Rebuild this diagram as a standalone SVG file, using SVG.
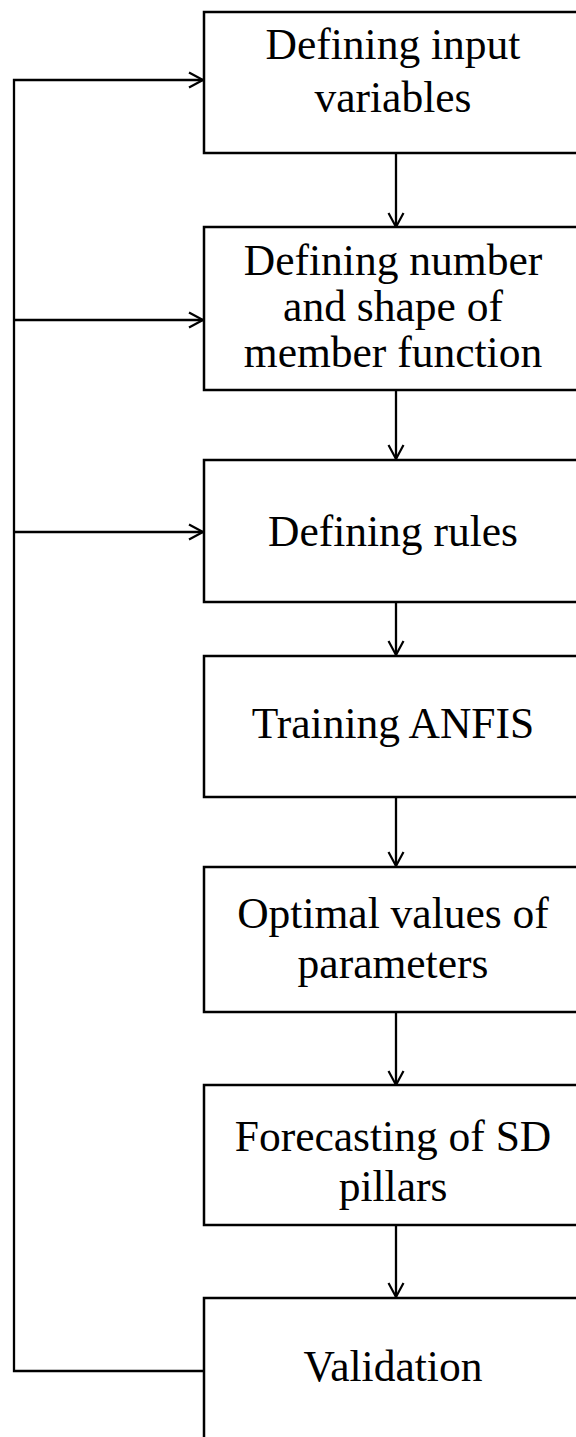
<svg xmlns="http://www.w3.org/2000/svg" width="576" height="1437" viewBox="0 0 576 1437">
<style>
.box{fill:#fff;stroke:#000;stroke-width:2.5}
.t{font-family:"Liberation Serif","Times New Roman",serif;font-size:43.5px;fill:#000;text-anchor:middle}
.c{fill:none;stroke:#000;stroke-width:2.3}
</style>
<defs>
<marker id="ah" markerWidth="18" markerHeight="18" refX="15" refY="9" orient="auto" markerUnits="userSpaceOnUse">
<path d="M1,1.5 L15,9 L1,16.5" fill="none" stroke="#000" stroke-width="2.2"/>
</marker>
</defs>
<rect width="576" height="1437" fill="#fff"/>
<g id="connectors">
<path class="c" d="M396,153 V227" marker-end="url(#ah)"/>
<path class="c" d="M396,390 V459" marker-end="url(#ah)"/>
<path class="c" d="M396,602 V655" marker-end="url(#ah)"/>
<path class="c" d="M396,797 V866" marker-end="url(#ah)"/>
<path class="c" d="M396,1012 V1085" marker-end="url(#ah)"/>
<path class="c" d="M396,1225 V1297" marker-end="url(#ah)"/>
<path class="c" d="M204,1371 H14 V80 H203" marker-end="url(#ah)"/>
<path class="c" d="M14,320 H203" marker-end="url(#ah)"/>
<path class="c" d="M14,532 H203" marker-end="url(#ah)"/>
</g>
<g id="n1"><rect class="box" x="204" y="12" width="390" height="141"/>
<text class="t" x="393" y="59">Defining input</text><text class="t" x="393" y="112">variables</text></g>
<g id="n2"><rect class="box" x="204" y="227" width="390" height="163"/>
<text class="t" x="393" y="275">Defining number</text><text class="t" x="393" y="321">and shape of</text><text class="t" x="393" y="367">member function</text></g>
<g id="n3"><rect class="box" x="204" y="460" width="390" height="142"/>
<text class="t" x="393" y="546">Defining rules</text></g>
<g id="n4"><rect class="box" x="204" y="656" width="390" height="141"/>
<text class="t" x="393" y="738">Training ANFIS</text></g>
<g id="n5"><rect class="box" x="204" y="867" width="390" height="145"/>
<text class="t" x="393" y="928">Optimal values of</text><text class="t" x="393" y="978">parameters</text></g>
<g id="n6"><rect class="box" x="204" y="1085" width="390" height="140"/>
<text class="t" x="393" y="1151">Forecasting of SD</text><text class="t" x="393" y="1201">pillars</text></g>
<g id="n7"><rect class="box" x="204" y="1298" width="390" height="160"/>
<text class="t" x="393" y="1381">Validation</text></g>
</svg>
